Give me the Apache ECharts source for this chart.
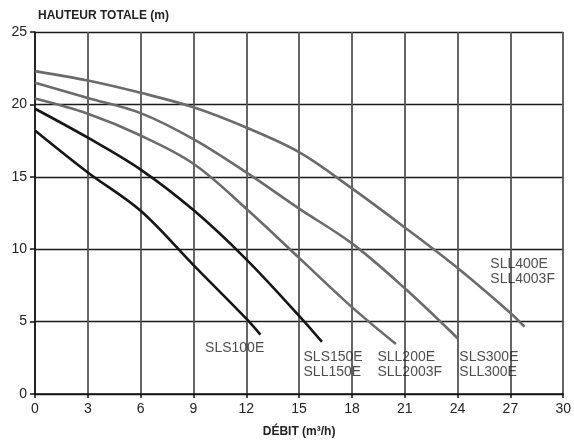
<!DOCTYPE html>
<html><head><meta charset="utf-8">
<script src="https://cdn.jsdelivr.net/npm/echarts@6/dist/echarts.min.js"></script>
<style>html,body{margin:0;padding:0;background:#fff}#c{width:574px;height:443px}</style>
</head><body><div id="c"></div>
<script>
const xTicks = [0,3,6,9,12,15,18,21,24,27,30];
const yTicks = [0,5,10,15,20,25];

const sls100eX = [0,3,6,9,12,12.8];
const sls100eY = [18.2,15.3,12.65,8.9,5.2,4.1];
const sls150eX = [0,3,6,9,12,15,16.3];
const sls150eY = [19.7,17.7,15.5,12.7,9.3,5.4,3.6];
const sll200eX = [0,3,6,9,12,15,18,20.5];
const sll200eY = [20.4,19.35,17.85,15.9,12.8,9.4,6.0,3.45];
const sls300eX = [0,3,6,9,12,15,18,21,24];
const sls300eY = [21.5,20.45,19.4,17.6,15.3,12.8,10.4,7.3,3.85];
const sll400eX = [0,3,6,9,12,15,18,21,24,27,27.8];
const sll400eY = [22.3,21.65,20.8,19.8,18.4,16.7,14.2,11.5,8.7,5.6,4.65];

const labelTexts = ['SLS100E','SLS150E\nSLL150E','SLL200E\nSLL2003F','SLS300E\nSLL300E','SLL400E\nSLL4003F'];
const labelX = [9.66,15.25,19.45,24.1,25.86];
const labelY = [3.2,2.0,2.0,2.0,8.48];

const zip = (xs, ys) => xs.map((x,i)=>[x, ys[i]]);
const FONT = '"Liberation Sans", Arial, sans-serif';

function curve(xs, ys, color){
  return {type:'line', data: zip(xs,ys), smooth:0.35, showSymbol:false, symbol:'none',
    lineStyle:{color:color, width:2.6}, z:5, silent:true};
}

const chart = echarts.init(document.getElementById('c'), null, {renderer:'canvas'});
chart.setOption({
  animation:false,
  backgroundColor:'#fff',
  grid:{left:35, right:8, top:32, bottom:45, containLabel:false},
  xAxis:{type:'value', min:0, max:30, interval:3,
    name:'DÉBIT (m³/h)', nameLocation:'middle', nameGap:32,
    nameTextStyle:{fontFamily:FONT, fontWeight:'bold', fontSize:12, color:'#222'},
    axisLine:{show:true, onZero:false, lineStyle:{color:'#111', width:1.5}},
    axisTick:{show:true, length:4, lineStyle:{color:'#111', width:1.5}},
    axisLabel:{fontFamily:FONT, fontSize:14, color:'#222', margin:8, formatter: v => xTicks.includes(v) ? String(v) : ''},
    splitLine:{show:true, lineStyle:{color:'#555', width:1.8}}
  },
  yAxis:{type:'value', min:0, max:25, interval:5,
    name:'HAUTEUR TOTALE (m)', nameLocation:'end', nameGap:10,
    nameTextStyle:{fontFamily:FONT, fontWeight:'bold', fontSize:12, color:'#222', align:'left', padding:[0,0,0,3]},
    axisLine:{show:true, onZero:false, lineStyle:{color:'#111', width:1.5}},
    axisTick:{show:true, length:5, lineStyle:{color:'#111', width:1.5}},
    axisLabel:{fontFamily:FONT, fontSize:14, color:'#222', margin:8, formatter: v => yTicks.includes(v) ? String(v) : ''},
    splitLine:{show:true, lineStyle:{color:'#1a1a1a', width:1.3}}
  },
  series:[
    curve(sls100eX, sls100eY, '#161616'),
    curve(sls150eX, sls150eY, '#161616'),
    curve(sll200eX, sll200eY, '#6b6b6b'),
    curve(sls300eX, sls300eY, '#6b6b6b'),
    curve(sll400eX, sll400eY, '#6b6b6b'),
    {type:'scatter', symbolSize:0, silent:true, z:6,
      data: labelX.map((x,i)=>({value:[x, labelY[i]], name:labelTexts[i]})),
      label:{show:true, position:'right', distance:0, formatter: p => p.name,
        fontFamily:FONT, fontSize:14, lineHeight:15, color:'#222'}
    }
  ]
});
</script></body></html>
